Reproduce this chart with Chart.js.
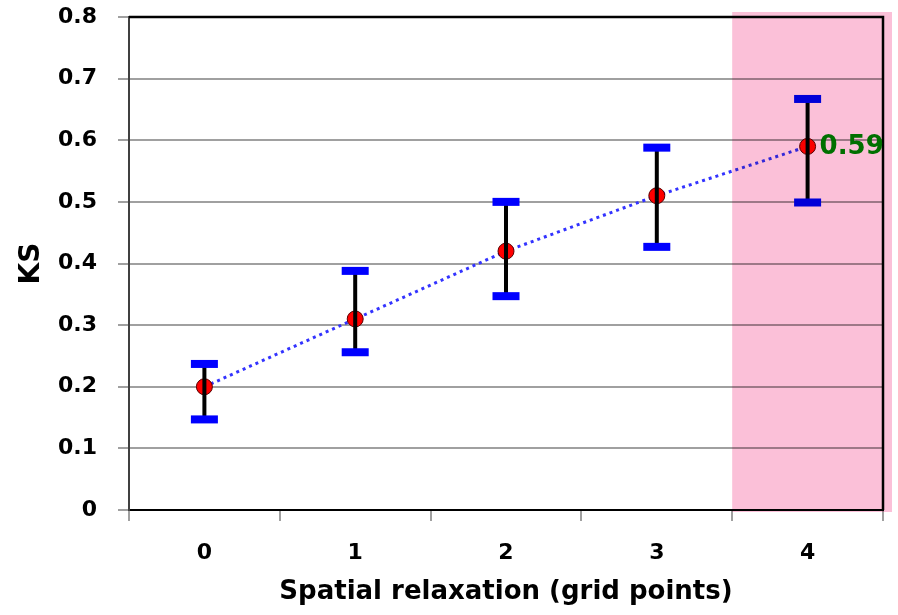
<!DOCTYPE html>
<html>
<head>
<meta charset="utf-8">
<script src="https://cdn.jsdelivr.net/npm/chart.js@4/dist/chart.umd.min.js"></script>
<style>
  body { margin: 0; background: #fff; }
  #wrap { width: 898px; height: 615px; }
</style>
</head>
<body>
<div id="wrap"><canvas id="grafico"></canvas></div>
<script>
// datos: KS por relajación espacial
const categorias = ['0', '1', '2', '3', '4'];
const valoresKS = [0.20, 0.31, 0.42, 0.51, 0.59];
const errorAlto = [0.237, 0.388, 0.50, 0.588, 0.667];
const errorBajo = [0.147, 0.256, 0.347, 0.427, 0.499];
const ticksY = [0, 0.1, 0.2, 0.3, 0.4, 0.5, 0.6, 0.7, 0.8];
const etiquetaPunto = 4; // índice del punto con etiqueta
const zonaResaltada = 4; // categoría con fondo rosa

const fuente = "'DejaVu Sans', sans-serif";

// barras de error, marco, zona rosa y etiqueta
const extras = {
  id: 'extras',
  afterDatasetsDraw(chart) {
    const { ctx, chartArea: a, scales: { x, y } } = chart;
    ctx.save();

    // barras de error
    valoresKS.forEach((v, i) => {
      const px = x.getPixelForValue(i);
      const yTop = y.getPixelForValue(errorAlto[i]);
      const yBot = y.getPixelForValue(errorBajo[i]);
      ctx.strokeStyle = '#000';
      ctx.lineWidth = 4;
      ctx.beginPath();
      ctx.moveTo(px, yTop);
      ctx.lineTo(px, yBot);
      ctx.stroke();
      ctx.fillStyle = '#0000ff';
      ctx.fillRect(px - 13.5, yTop - 4, 27, 8);
      ctx.fillRect(px - 13.5, yBot - 4, 27, 8);
    });

    // marco superior y derecho
    ctx.strokeStyle = '#000';
    ctx.lineWidth = 2.5;
    ctx.beginPath();
    ctx.moveTo(a.left, a.top);
    ctx.lineTo(a.right, a.top);
    ctx.lineTo(a.right, a.bottom);
    ctx.stroke();

    // zona rosa sobre la última categoría
    const ancho = x.getPixelForValue(1) - x.getPixelForValue(0);
    const x0 = x.getPixelForValue(zonaResaltada) - ancho / 2;
    ctx.globalCompositeOperation = 'multiply';
    ctx.fillStyle = 'rgb(251,192,216)';
    ctx.fillRect(x0, a.top - 5, a.right + 9 - x0, a.bottom - a.top + 7);
    ctx.globalCompositeOperation = 'source-over';

    // etiqueta del valor
    const pt = chart.getDatasetMeta(0).data[etiquetaPunto];
    ctx.fillStyle = '#007000';
    ctx.font = 'bold 26px ' + fuente;
    ctx.textAlign = 'left';
    ctx.textBaseline = 'middle';
    ctx.fillText(valoresKS[etiquetaPunto].toFixed(2), pt.x + 12, pt.y + 1);

    ctx.restore();
  }
};

new Chart(document.getElementById('grafico'), {
  type: 'line',
  data: {
    labels: categorias,
    datasets: [{
      data: valoresKS,
      borderColor: '#3333ff',
      borderWidth: 3,
      borderDash: [3, 4],
      pointRadius: 8,
      pointBackgroundColor: '#ff0000',
      pointBorderColor: '#550000',
      pointBorderWidth: 1,
      fill: false,
      tension: 0
    }]
  },
  options: {
    responsive: true,
    maintainAspectRatio: false,
    animation: false,
    layout: { padding: { top: 17, right: 15, left: 0, bottom: 0 } },
    plugins: { legend: { display: false }, tooltip: { enabled: false } },
    scales: {
      x: {
        type: 'category',
        offset: true,
        grid: { offset: true, drawOnChartArea: false, drawTicks: true, tickLength: 11, color: '#a0a0a0', lineWidth: 2 },
        border: { color: '#000', width: 2 },
        ticks: { color: '#000', font: { family: fuente, size: 22, weight: 'bold' }, padding: 19 },
        title: {
          display: true,
          text: 'Spatial relaxation (grid points)',
          color: '#000',
          font: { family: fuente, size: 26, weight: 'bold' },
          padding: { top: 0, bottom: 7 }
        },
        afterFit(s) { s.height = 105; }
      },
      y: {
        min: 0,
        max: 0.8,
        afterBuildTicks(s) { s.ticks = ticksY.map(v => ({ value: v })); },
        grid: { color: '#a0a0a0', lineWidth: 2, tickLength: 11 },
        border: { color: '#404040', width: 2 },
        ticks: {
          color: '#000',
          font: { family: fuente, size: 22, weight: 'bold' },
          padding: 21,
          callback: v => v === 0 ? '0' : v.toFixed(1)
        },
        title: {
          display: true,
          text: 'KS',
          color: '#000',
          font: { family: fuente, size: 28, weight: 'bold' },
          padding: { top: 15, bottom: 0 }
        },
        afterFit(s) {
          s.width = 129;
          s.paddingTop = 0;
          s.paddingBottom = 0;
        }
      }
    }
  },
  plugins: [extras]
});
</script>
</body>
</html>
